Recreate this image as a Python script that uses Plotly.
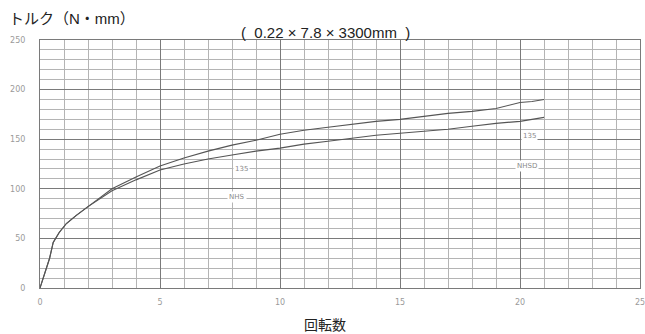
import plotly.graph_objects as go

# Data
rotations = [0, 0.2, 0.4, 0.55, 0.8, 1.1, 1.5, 2, 2.5, 3, 4, 5, 6, 7, 8, 9, 10,
             11, 12, 13, 14, 15, 16, 17, 18, 19, 20, 20.5, 21]
torque_135 = [0, 15, 30, 46, 56, 65, 73, 82, 91, 100, 112, 123, 131, 138, 144, 149, 155,
              159, 162, 165, 168, 170, 173, 176, 178, 181, 187, 188, 190]
torque_nhs = [0, 15, 30, 46, 56, 65, 73, 82, 90, 98, 109, 119, 125, 130, 134, 138, 141,
              145, 148, 151, 154, 156, 158, 160, 163, 166, 168, 170, 172]
x_ticks = [0, 5, 10, 15, 20, 25]
y_ticks = [0, 50, 100, 150, 200, 250]

line_col = "#555555"
fig = go.Figure()
fig.add_trace(go.Scatter(x=rotations, y=torque_135, mode="lines",
                         line=dict(color=line_col, width=1.1), name="135"))
fig.add_trace(go.Scatter(x=rotations, y=torque_nhs, mode="lines",
                         line=dict(color=line_col, width=1.1), name="NHS"))

lab_font = dict(family="DejaVu Sans", size=7, color="#8a8a8a")
for txt, x, y in [("135", 8.4, 120), ("NHS", 8.2, 92), ("135", 20.4, 153), ("NHSD", 20.3, 123)]:
    fig.add_annotation(x=x, y=y, text=txt, showarrow=False, font=lab_font,
                       bgcolor="white", borderpad=1)

title_font = dict(family="Liberation Sans, Noto Sans CJK JP", size=15, color="#222")
fig.add_annotation(xref="paper", yref="paper", x=-0.055, y=1.0, yshift=22,
                   xanchor="left", yanchor="middle", text="トルク（N・mm）",
                   showarrow=False, font=title_font)
fig.add_annotation(xref="paper", yref="paper", x=0.475, y=1.0, yshift=8,
                   xanchor="center", yanchor="middle", text="(  0.22 × 7.8 × 3300mm  )",
                   showarrow=False, font=title_font)
fig.add_annotation(xref="paper", yref="paper", x=0.475, y=0, yshift=-36,
                   xanchor="center", yanchor="middle", text="回転数",
                   showarrow=False, borderpad=0,
                   font=dict(family="Noto Sans CJK JP", size=14, color="#222"))

fig.update_layout(
    width=645, height=334,
    margin=dict(l=40, r=5, t=40, b=46),
    paper_bgcolor="white", plot_bgcolor="white",
    showlegend=False,
    font=dict(family="DejaVu Sans"),
)
fig.update_xaxes(range=[0, 25], tickvals=x_ticks, ticktext=[str(v) for v in x_ticks],
                 showgrid=True, gridcolor="#7a7a7a", gridwidth=1,
                 minor=dict(dtick=1, showgrid=True, gridcolor="#b4b4b4", gridwidth=1),
                 showline=True, linecolor="#7a7a7a", mirror=True, zeroline=False,
                 ticklabeloverflow="allow", automargin=False,
                 tickfont=dict(size=8, color="#9a9a9a"), ticks="", ticklabelstandoff=6)
fig.update_yaxes(range=[0, 250], tickvals=y_ticks, ticktext=[str(v) for v in y_ticks],
                 showgrid=True, gridcolor="#7a7a7a", gridwidth=1,
                 minor=dict(dtick=10, showgrid=True, gridcolor="#b4b4b4", gridwidth=1),
                 showline=True, linecolor="#7a7a7a", mirror=True, zeroline=False,
                 automargin=False,
                 tickfont=dict(size=8, color="#9a9a9a"), ticks="", ticklabelstandoff=12)

fig.write_html("out.html", config={"displayModeBar": False},
               post_script="document.body.style.margin='0';document.body.style.overflow='hidden';")
